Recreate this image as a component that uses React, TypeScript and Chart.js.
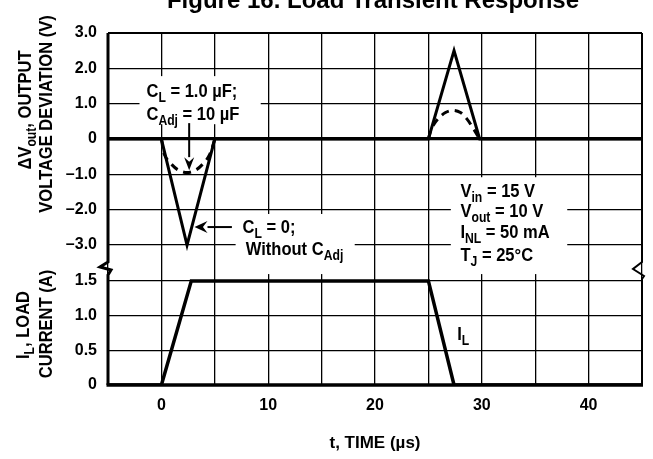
import React, { useEffect, useRef } from 'react';
import { Chart, registerables } from 'chart.js';

Chart.register(...registerables);

const FONT = "'Liberation Sans', Arial, Helvetica, sans-serif";

const TITLE = 'Figure 16. Load Transient Response';
const X_TITLE = 't, TIME (µs)';
const X_GRID = [-5, 0, 5, 10, 15, 20, 25, 30, 35, 40, 45];
const X_LABELS = [0, 10, 20, 30, 40];
const V_TICKS = [-3, -2, -1, 0, 1, 2, 3];
const I_TICKS = [0, 0.5, 1.0, 1.5];
const V_RANGE = [-3.62, 3];
const I_RANGE = [0, 1.7];

// Output deviation, C_L = 0, without C_Adj (solid)
const T_SOLID = [-5, 0, 2.4, 5.0, 25, 27.4, 29.8, 45];
const V_SOLID = [0, 0, -3.0, 0, 0, 2.5, 0, 0];
// Output deviation, C_L = 1.0 µF, C_Adj = 10 µF (dashed)
const T_DASH_A = [0, 0.3, 0.9, 1.6, 2.4, 3.2, 3.9, 4.5, 5.0];
const V_DASH_A = [0, -0.45, -0.7, -0.88, -0.95, -0.88, -0.7, -0.45, 0];
const T_DASH_B = [25, 25.3, 25.9, 26.6, 27.3, 28.0, 28.6, 29.2, 29.8];
const V_DASH_B = [0, 0.3, 0.57, 0.75, 0.81, 0.75, 0.57, 0.3, 0];
// Load current
const T_LOAD = [-5, 0, 2.8, 25, 27.4, 45];
const I_LOAD = [0, 0, 1.5, 1.5, 0, 0];

type Part = [string, boolean];
const Y_TITLE_V1: Part[] = [['ΔV', false], ['out', true], [', OUTPUT', false]];
const Y_TITLE_V2: Part[] = [['VOLTAGE DEVIATION (V)', false]];
const Y_TITLE_I1: Part[] = [['I', false], ['L', true], [', LOAD', false]];
const Y_TITLE_I2: Part[] = [['CURRENT (A)', false]];

const NOTE_CL1: Part[] = [['C', false], ['L', true], [' = 1.0 µF;', false]];
const NOTE_CADJ: Part[] = [['C', false], ['Adj', true], [' = 10 µF', false]];
const NOTE_CL0: Part[] = [['C', false], ['L', true], [' = 0;', false]];
const NOTE_WO: Part[] = [['Without C', false], ['Adj', true]];
const COND: Part[][] = [
  [['V', false], ['in', true], [' = 15 V', false]],
  [['V', false], ['out', true], [' = 10 V', false]],
  [['I', false], ['NL', true], [' = 50 mA', false]],
  [['T', false], ['J', true], [' = 25°C', false]],
];
const NOTE_IL: Part[] = [['I', false], ['L', true]];

const zip = (xs: number[], ys: number[]) => xs.map((x, i) => ({ x, y: ys[i] }));

const TXT = 19;
const TW = 'bold';
const SQUEEZE = 0.87;

function richWidth(ctx: CanvasRenderingContext2D, parts: Part[], size: number, weight: string) {
  const sub = Math.round(size * 0.74);
  let w = 0;
  for (const [t, s] of parts) {
    ctx.font = `${weight} ${s ? sub : size}px ${FONT}`;
    w += ctx.measureText(t).width;
  }
  return w;
}

function drawRich(ctx: CanvasRenderingContext2D, parts: Part[], x: number, y: number, size: number, align: 'left' | 'center', weight = TW) {
  const sub = Math.round(size * 0.74);
  const w = richWidth(ctx, parts, size, weight);
  ctx.save();
  ctx.translate(x, y);
  ctx.scale(SQUEEZE, 1);
  let cx = align === 'center' ? -w / 2 : 0;
  ctx.textAlign = 'left';
  ctx.textBaseline = 'middle';
  ctx.fillStyle = '#000';
  for (const [t, s] of parts) {
    ctx.font = `${weight} ${s ? sub : size}px ${FONT}`;
    ctx.fillText(t, cx, s ? size * 0.32 : 0);
    cx += ctx.measureText(t).width;
  }
  ctx.restore();
}

function arrow(ctx: CanvasRenderingContext2D, x1: number, y1: number, x2: number, y2: number, head = 13, hw = 5) {
  const a = Math.atan2(y2 - y1, x2 - x1);
  const bx = x2 - head * Math.cos(a);
  const by = y2 - head * Math.sin(a);
  ctx.beginPath();
  ctx.moveTo(x1, y1);
  ctx.lineTo(bx, by);
  ctx.stroke();
  ctx.beginPath();
  ctx.moveTo(x2, y2);
  ctx.lineTo(bx + hw * Math.sin(a), by - hw * Math.cos(a));
  ctx.lineTo(bx + 0.35 * head * Math.cos(a), by + 0.35 * head * Math.sin(a));
  ctx.lineTo(bx - hw * Math.sin(a), by + hw * Math.cos(a));
  ctx.closePath();
  ctx.fill();
}

const decor = {
  id: 'decor',
  beforeDatasetsDraw(chart: any) {
    const ctx: CanvasRenderingContext2D = chart.ctx;
    const sx = chart.scales.x;
    const sv = chart.scales.yV;
    const box = (t1: number, t2: number, v1: number, v2: number) => {
      const x1 = sx.getPixelForValue(t1), x2 = sx.getPixelForValue(t2);
      const y1 = sv.getPixelForValue(v1), y2 = sv.getPixelForValue(v2);
      ctx.fillRect(x1, y1, x2 - x1, y2 - y1);
    };
    ctx.save();
    ctx.fillStyle = '#fff';
    box(-2.05, 9.3, 1.78, 0.42);
    box(6.95, 18.1, -2.12, -3.82);
    box(27.1, 38.0, -1.08, -3.82);
    ctx.restore();
  },
  afterDatasetsDraw(chart: any) {
    const ctx: CanvasRenderingContext2D = chart.ctx;
    const sx = chart.scales.x;
    const sv = chart.scales.yV;
    const si = chart.scales.yI;
    const { left, right, top, bottom } = chart.chartArea;
    const X = (t: number) => sx.getPixelForValue(t);
    const YV = (v: number) => sv.getPixelForValue(v);
    const YI = (v: number) => si.getPixelForValue(v);
    const yb = sv.getPixelForValue(V_RANGE[0]);
    ctx.save();
    ctx.strokeStyle = '#000';
    ctx.fillStyle = '#000';
    ctx.lineJoin = 'miter';
    // frame
    ctx.lineWidth = 2;
    ctx.beginPath();
    ctx.moveTo(left, top);
    ctx.lineTo(right, top);
    ctx.stroke();
    ctx.lineWidth = 3;
    ctx.beginPath();
    ctx.moveTo(left, top);
    ctx.lineTo(left, yb - 5);
    ctx.lineTo(left - 8, yb);
    ctx.lineTo(left + 3, yb + 3);
    ctx.lineTo(left, yb + 8);
    ctx.lineTo(left, bottom);
    ctx.stroke();
    ctx.lineWidth = 2;
    ctx.beginPath();
    ctx.moveTo(right, top);
    ctx.lineTo(right, yb - 5);
    ctx.lineTo(right - 9, yb + 2);
    ctx.lineTo(right + 2, yb + 9);
    ctx.lineTo(right, yb + 12);
    ctx.lineTo(right, bottom);
    ctx.stroke();
    ctx.lineWidth = 3.5;
    ctx.beginPath();
    ctx.moveTo(left - 1.5, bottom);
    ctx.lineTo(right + 1, bottom);
    ctx.stroke();

    // annotations
    drawRich(ctx, NOTE_CL1, X(-1.4), YV(1.33), TXT, 'left');
    drawRich(ctx, NOTE_CADJ, X(-1.4), YV(0.68), TXT, 'left');
    drawRich(ctx, NOTE_CL0, X(7.6), YV(-2.52), TXT, 'left');
    drawRich(ctx, NOTE_WO, X(7.9), YV(-3.14), TXT, 'left');
    const condV = [-1.5, -2.07, -2.66, -3.3];
    COND.forEach((p, i) => drawRich(ctx, p, X(28.0), YV(condV[i]), TXT, 'left'));
    drawRich(ctx, NOTE_IL, X(27.7), YI(0.72), TXT, 'left');

    ctx.lineWidth = 2;
    arrow(ctx, X(2.6), YV(0.45), X(2.6), YV(-0.88), 13, 5);
    arrow(ctx, X(6.6), YV(-2.49), X(3.1), YV(-2.49), 13, 6);

    // title
    ctx.font = `bold 24px ${FONT}`;
    ctx.textAlign = 'center';
    ctx.textBaseline = 'alphabetic';
    ctx.fillText(TITLE, 373, 8);

    // y axis titles
    const rot = (parts: Part[], x: number, y: number) => {
      ctx.save();
      ctx.translate(x, y);
      ctx.rotate(-Math.PI / 2);
      drawRich(ctx, parts, 0, 0, TXT, 'center');
      ctx.restore();
    };
    rot(Y_TITLE_V1, 26, 110);
    rot(Y_TITLE_V2, 47, 114);
    rot(Y_TITLE_I1, 24, 325);
    rot(Y_TITLE_I2, 47, 324);
    ctx.restore();
  },
};

const tickFont = { family: FONT, size: 16, weight: 'bold' as const };

export default function App() {
  const ref = useRef<HTMLCanvasElement>(null);
  useEffect(() => {
    document.body.style.margin = '0';
    const canvas = ref.current!;
    const line = (data: any, yAxisID: string, extra: any = {}) => ({
      data,
      yAxisID,
      borderColor: '#000',
      borderWidth: 3,
      pointRadius: 0,
      fill: false,
      tension: 0,
      ...extra,
    });
    const chart = new Chart(canvas, {
      type: 'line',
      data: {
        datasets: [
          line(zip(T_SOLID, V_SOLID), 'yV'),
          line(zip(T_DASH_A, V_DASH_A), 'yV', { borderDash: [8, 6], tension: 0.35 }),
          line(zip(T_DASH_B, V_DASH_B), 'yV', { borderDash: [8, 6], tension: 0.35 }),
          line(zip(T_LOAD, I_LOAD), 'yI', { borderWidth: 3.5 }),
        ],
      },
      options: {
        animation: false,
        responsive: false,
        events: [],
        layout: { padding: { top: 33, right: 7.5, left: 0, bottom: 0 } },
        plugins: { legend: { display: false }, tooltip: { enabled: false }, title: { display: false } },
        scales: {
          x: {
            type: 'linear',
            min: -5,
            max: 45,
            afterBuildTicks: (a: any) => { a.ticks = X_GRID.map((v) => ({ value: v })); },
            afterFit: (s: any) => { s.height = 74; },
            grid: { color: '#000', lineWidth: 1.3, drawTicks: false },
            border: { display: false },
            ticks: {
              autoSkip: false,
              maxRotation: 0,
              padding: 11,
              color: '#000',
              font: tickFont,
              callback: (v: any) => (X_LABELS.includes(Number(v)) ? String(v) : ''),
            },
            title: { display: true, text: X_TITLE, color: '#000', font: { family: FONT, size: 17, weight: 'bold' }, padding: { top: 0, bottom: 5 } },
          },
          yV: {
            type: 'linear',
            position: 'left',
            stack: 'main',
            stackWeight: 234,
            weight: 2,
            min: V_RANGE[0],
            max: V_RANGE[1],
            afterBuildTicks: (a: any) => { a.ticks = V_TICKS.map((v) => ({ value: v })); },
            afterFit: (s: any) => { s.width = 108; },
            grid: {
              color: '#000',
              drawTicks: false,
              lineWidth: (c: any) => (c.tick && c.tick.value === 0 ? 3.2 : 1.3),
            },
            border: { display: false },
            ticks: {
              autoSkip: false,
              padding: 11,
              color: '#000',
              font: tickFont,
              callback: (v: any) => (Number(v) === 0 ? '0' : (Number(v) < 0 ? '–' : '') + Math.abs(Number(v)).toFixed(1)),
            },
          },
          yI: {
            type: 'linear',
            position: 'left',
            stack: 'main',
            stackWeight: 118,
            weight: 1,
            min: I_RANGE[0],
            max: I_RANGE[1],
            afterBuildTicks: (a: any) => { a.ticks = I_TICKS.map((v) => ({ value: v })); },
            afterFit: (s: any) => { s.width = 108; },
            grid: { color: '#000', drawTicks: false, lineWidth: 1.3 },
            border: { display: false },
            ticks: {
              autoSkip: false,
              padding: 11,
              color: '#000',
              font: tickFont,
              callback: (v: any) => (Number(v) === 0 ? '0' : Number(v).toFixed(1)),
            },
          },
        },
      } as any,
      plugins: [decor as any],
    });
    return () => chart.destroy();
  }, []);
  return <canvas ref={ref} width={653} height={459} style={{ display: 'block' }} />;
}
